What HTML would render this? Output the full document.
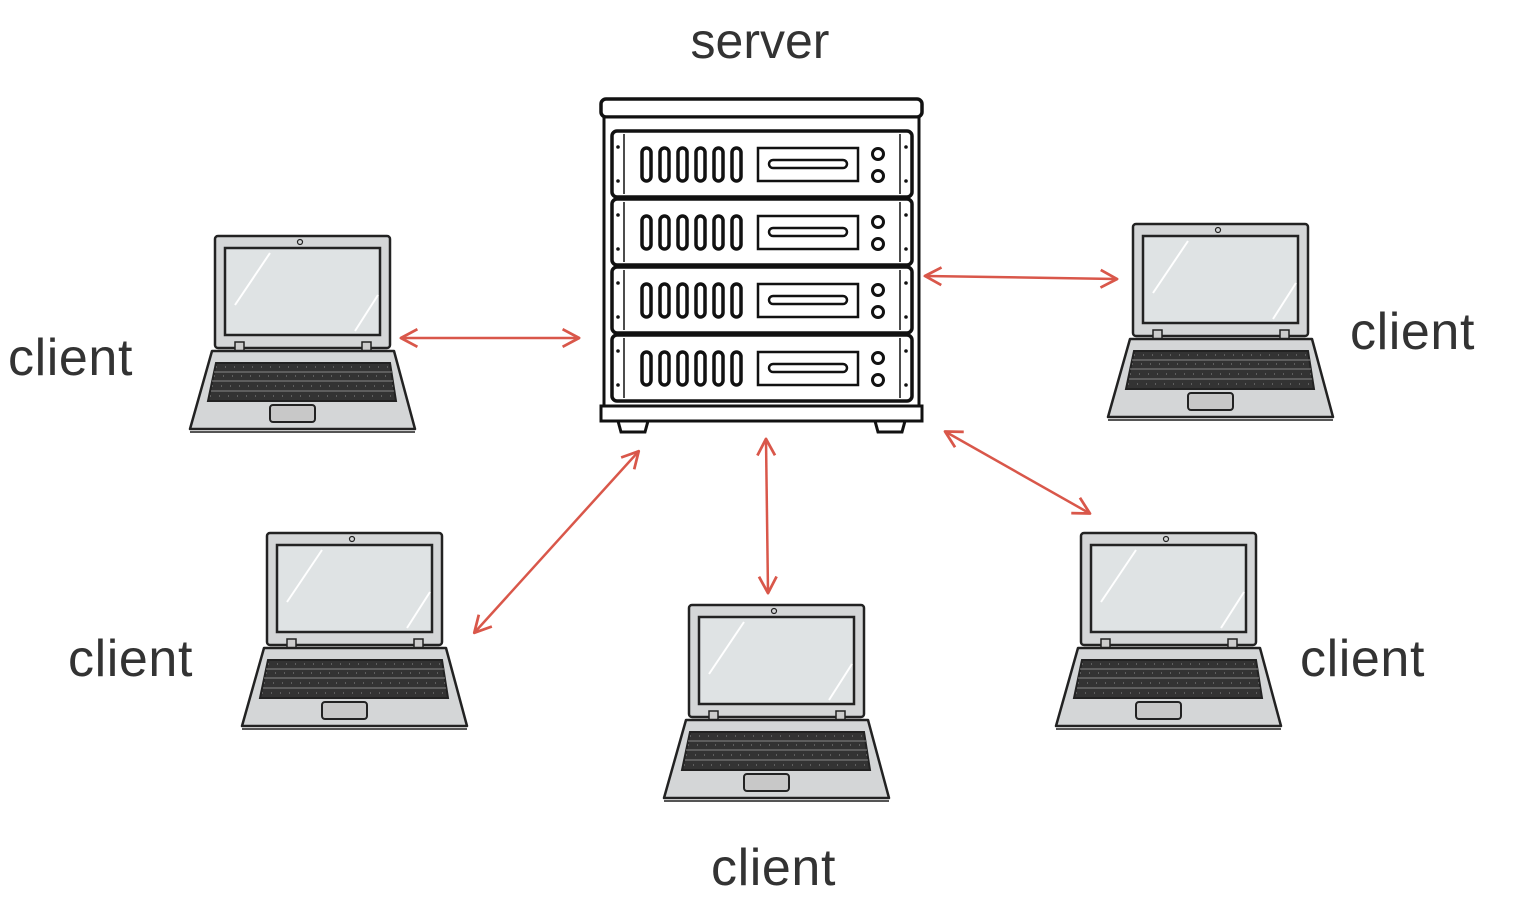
<!DOCTYPE html>
<html><head><meta charset="utf-8"><style>
html,body{margin:0;padding:0;background:#fff;}
svg{display:block;}
text{font-family:"Liberation Sans",sans-serif;font-size:50px;fill:#333;}
text.c{font-size:52px;letter-spacing:0.6px;}
</style></head><body>
<svg width="1516" height="900" viewBox="0 0 1516 900" xmlns="http://www.w3.org/2000/svg">
<defs>
<symbol id="lap" overflow="visible">
  <rect x="25" y="1" width="175" height="112" rx="3" fill="#d4d6d7" stroke="#222" stroke-width="2.5"/>
  <rect x="35" y="13" width="155" height="87" fill="#dfe3e4" stroke="#222" stroke-width="2.5"/>
  <line x1="45" y1="70" x2="80" y2="18" stroke="#fff" stroke-width="2"/>
  <line x1="165" y1="96" x2="188" y2="60" stroke="#fff" stroke-width="2"/>
  <circle cx="110" cy="7" r="2.5" fill="none" stroke="#222" stroke-width="1.2"/>
  <rect x="45" y="107" width="9" height="9" fill="#ccc" stroke="#222" stroke-width="1.5"/>
  <rect x="172" y="107" width="9" height="9" fill="#ccc" stroke="#222" stroke-width="1.5"/>
  <path d="M22 116 L204 116 L225 194 L0 194 Z" fill="#d4d6d7" stroke="#222" stroke-width="2.5" stroke-linejoin="round"/>
  <line x1="0" y1="197" x2="225" y2="197" stroke="#555" stroke-width="2"/>
  <path d="M26 128 L200 128 L206 166 L18 166 Z" fill="#333" stroke="#222" stroke-width="2"/>
  <g stroke="#888" stroke-width="1">
    <line x1="24" y1="137" x2="202" y2="137"/><line x1="22" y1="146" x2="203" y2="146"/>
    <line x1="21" y1="156" x2="204" y2="156"/>
  </g>
  <g stroke="#888" stroke-width="1" stroke-dasharray="1 8">
    <line x1="26" y1="132" x2="200" y2="132"/><line x1="24" y1="141" x2="202" y2="141"/>
    <line x1="22" y1="151" x2="204" y2="151"/><line x1="20" y1="161" x2="205" y2="161"/>
  </g>
  <rect x="80" y="170" width="45" height="17" rx="3" fill="#c8c8c8" stroke="#222" stroke-width="2"/>
</symbol>
<symbol id="unit" overflow="visible">
  <rect x="0" y="0" width="300" height="66" rx="5" fill="#fff" stroke="#111" stroke-width="3.5"/>
  <line x1="12" y1="3" x2="12" y2="63" stroke="#111" stroke-width="1.5"/>
  <line x1="288" y1="3" x2="288" y2="63" stroke="#111" stroke-width="1.5"/>
  <circle cx="6" cy="16" r="1.8" fill="#111"/><circle cx="6" cy="50" r="1.8" fill="#111"/>
  <circle cx="294" cy="16" r="1.8" fill="#111"/><circle cx="294" cy="50" r="1.8" fill="#111"/>
  <g fill="none" stroke="#111" stroke-width="3.5">
    <rect x="30" y="17" width="9" height="33" rx="4.5"/><rect x="48" y="17" width="9" height="33" rx="4.5"/>
    <rect x="66" y="17" width="9" height="33" rx="4.5"/><rect x="84" y="17" width="9" height="33" rx="4.5"/>
    <rect x="102" y="17" width="9" height="33" rx="4.5"/><rect x="120" y="17" width="9" height="33" rx="4.5"/>
    <rect x="146" y="17" width="100" height="33" stroke-width="2.5"/>
    <rect x="157" y="29" width="78" height="8" rx="4" stroke-width="2.5"/>
    <circle cx="266" cy="23" r="5.5" stroke-width="3"/><circle cx="266" cy="45" r="5.5" stroke-width="3"/>
  </g>
</symbol>
<marker id="ah" viewBox="0 0 20 20" refX="16" refY="10" markerWidth="22" markerHeight="22" markerUnits="userSpaceOnUse" orient="auto-start-reverse">
  <path d="M2 2 L17 10 L2 18" fill="none" stroke="#d9574a" stroke-width="2.5" stroke-linejoin="round"/>
</marker>
</defs>

<text x="760" y="58" text-anchor="middle">server</text>
<text class="c" x="8" y="375">client</text>
<text class="c" x="1350" y="349">client</text>
<text class="c" x="68" y="676">client</text>
<text class="c" x="711" y="885">client</text>
<text class="c" x="1300" y="676">client</text>

<rect x="601" y="99" width="321" height="18" rx="5" fill="#fff" stroke="#111" stroke-width="3.5"/>
<rect x="604" y="117" width="315" height="300" fill="#fff" stroke="#111" stroke-width="3"/>
<use href="#unit" x="612" y="131"/>
<use href="#unit" x="612" y="199"/>
<use href="#unit" x="612" y="267"/>
<use href="#unit" x="612" y="335"/>
<rect x="601" y="406" width="321" height="15" fill="#fff" stroke="#111" stroke-width="3"/>
<path d="M618 421 h30 l-3 11 h-24 Z" fill="#fff" stroke="#111" stroke-width="3"/>
<path d="M875 421 h30 l-3 11 h-24 Z" fill="#fff" stroke="#111" stroke-width="3"/>

<use href="#lap" x="190" y="235"/>
<use href="#lap" x="242" y="532"/>
<use href="#lap" x="664" y="604"/>
<use href="#lap" x="1056" y="532"/>
<use href="#lap" x="1108" y="223"/>

<g stroke="#d9574a" stroke-width="2.5" fill="none" marker-start="url(#ah)" marker-end="url(#ah)">
  <line x1="402" y1="338" x2="578" y2="338"/>
  <line x1="926" y1="276" x2="1116" y2="279"/>
  <line x1="638" y1="452" x2="475" y2="632"/>
  <line x1="766" y1="440" x2="768" y2="592"/>
  <line x1="946" y1="432" x2="1089" y2="513"/>
</g>
</svg>
</body></html>
